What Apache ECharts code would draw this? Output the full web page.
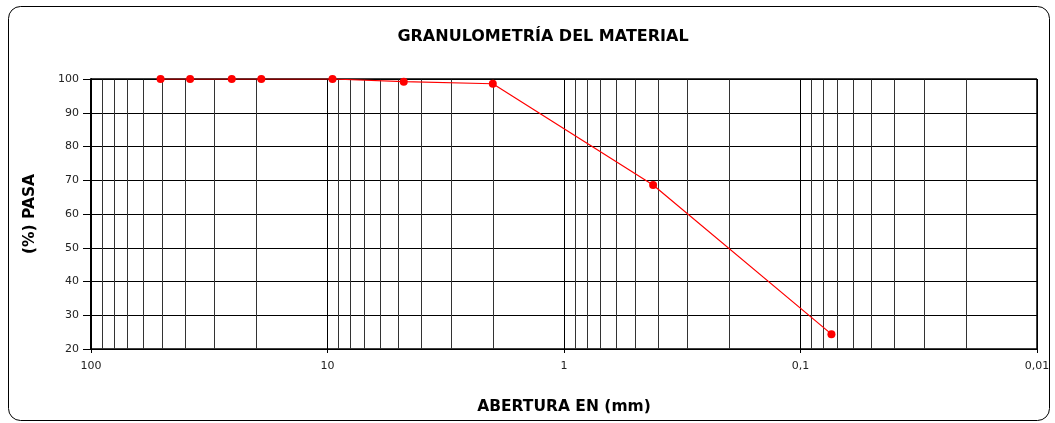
<!DOCTYPE html>
<html>
<head>
<meta charset="utf-8">
<script src="https://cdn.jsdelivr.net/npm/echarts@6/dist/echarts.min.js"></script>
<style>
  html, body { margin: 0; padding: 0; background: #fff; }
  #main { width: 1055px; height: 423px; }
</style>
</head>
<body>
<div id="main"></div>
<script>
// abertura del tamiz (mm) y porcentaje que pasa
const aberturas = [50.8, 38.1, 25.4, 19.05, 9.525, 4.76, 2.0, 0.42, 0.074];
const pasa = [100, 100, 100, 100, 100, 99.2, 98.6, 68.6, 24.4];

// decadas para las lineas secundarias de la grilla (2..9 x decada)
const decadas = [10, 1, 0.1, 0.01];
const multiplos = [2, 3, 4, 5, 6, 7, 8, 9];

var lineasMenores = [];
decadas.forEach(function (d) {
  multiplos.forEach(function (m) {
    lineasMenores.push({ xAxis: +(d * m).toPrecision(3) });
  });
});

var chart = echarts.init(document.getElementById('main'));
var fuente = '"DejaVu Sans", "Liberation Sans", Arial, sans-serif';

var option = {
  animation: false,
  backgroundColor: '#fff',
  textStyle: { fontFamily: fuente },
  title: {
    text: 'GRANULOMETRÍA DEL MATERIAL',
    left: 538,
    textAlign: 'center',
    top: 24,
    textStyle: { fontSize: 16, fontWeight: 'bold', color: '#000', fontFamily: fuente }
  },
  graphic: [{
    type: 'rect',
    shape: { x: 8.5, y: 6.5, width: 1041, height: 414, r: 12 },
    style: { fill: 'none', stroke: '#000', lineWidth: 1 },
    silent: true,
    z: -1
  }],
  grid: { left: 91, right: 18, top: 79, bottom: 74 },
  xAxis: {
    type: 'log',
    logBase: 10,
    min: 0.01,
    max: 100,
    inverse: true,
    name: 'ABERTURA EN (mm)',
    nameLocation: 'middle',
    nameGap: 50,
    nameTextStyle: { fontSize: 15.5, fontWeight: 'bold', color: '#000', fontFamily: fuente },
    axisLine: { show: true, onZero: false, lineStyle: { color: '#000', width: 1.5 } },
    axisTick: { show: true, length: 4, lineStyle: { color: '#000' } },
    axisLabel: {
      color: '#222',
      fontSize: 11,
      margin: 12,
      formatter: function (v) { return String(+v.toPrecision(3)).replace('.', ','); }
    },
    splitLine: { show: true, lineStyle: { color: '#000', width: 1 } }
  },
  yAxis: {
    type: 'value',
    min: 20,
    max: 100,
    interval: 10,
    name: '(%) PASA',
    nameLocation: 'middle',
    nameGap: 53,
    nameTextStyle: { fontSize: 15.5, fontWeight: 'bold', color: '#000', fontFamily: fuente },
    axisLine: { show: true, lineStyle: { color: '#000', width: 2 } },
    axisTick: { show: true, length: 8, lineStyle: { color: '#000' } },
    axisLabel: { color: '#222', fontSize: 11, margin: 12 },
    splitLine: { show: true, lineStyle: { color: '#000', width: 1 } }
  },
  series: [
    {
      name: 'grilla',
      type: 'line',
      data: [],
      silent: true,
      markLine: {
        silent: true,
        symbol: 'none',
        label: { show: false },
        lineStyle: { color: '#333', width: 1, type: 'solid' },
        data: lineasMenores
      }
    },
    {
      name: 'Granulometría',
      type: 'line',
      data: aberturas.map(function (a, i) { return [a, pasa[i]]; }),
      symbol: 'circle',
      symbolSize: 8,
      itemStyle: { color: '#ff0000' },
      lineStyle: { color: '#ff0000', width: 1.2 },
      z: 5
    },
    {
      name: 'borde',
      type: 'line',
      data: [],
      silent: true,
      markLine: {
        silent: true,
        symbol: 'none',
        label: { show: false },
        lineStyle: { color: '#000', width: 1.5, type: 'solid' },
        data: [{ xAxis: 0.01 }, { yAxis: 100 }]
      }
    }
  ]
};

chart.setOption(option);
</script>
</body>
</html>
